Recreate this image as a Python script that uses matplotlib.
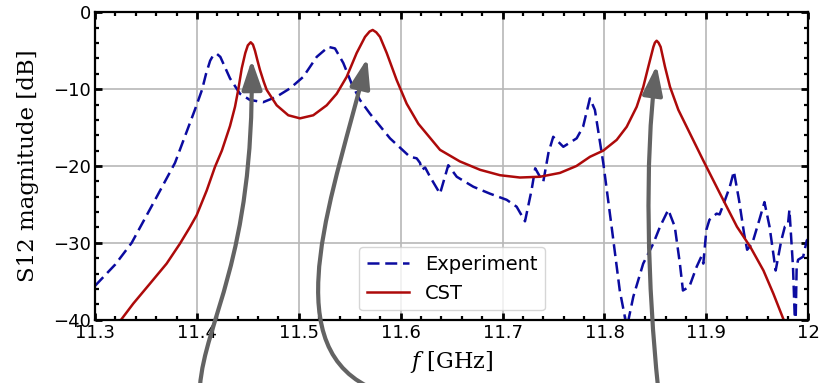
import matplotlib
matplotlib.use("Agg")
import matplotlib.pyplot as plt
from matplotlib.patches import FancyArrowPatch
from matplotlib.path import Path

# Experiment (measured S12, dB)
exp_f = [11.300, 11.320, 11.336, 11.359, 11.3785, 11.398, 11.405, 11.409, 11.413,
         11.416, 11.4195, 11.423, 11.4325, 11.4423, 11.452, 11.465, 11.478, 11.4914,
         11.5044, 11.5176, 11.529, 11.5355, 11.5437, 11.5519, 11.560, 11.5699, 11.5895,
         11.609, 11.6157, 11.619, 11.6206, 11.624, 11.6288, 11.6386, 11.6467, 11.655,
         11.6713, 11.6876, 11.704, 11.7138, 11.722, 11.7285, 11.732, 11.7367, 11.740,
         11.745, 11.7497, 11.7596, 11.7727, 11.779, 11.7857, 11.7906, 11.7988, 11.807,
         11.815, 11.822, 11.8283, 11.838, 11.8479, 11.8545, 11.8626, 11.869, 11.874,
         11.877, 11.8833, 11.8905, 11.895, 11.897, 11.900, 11.903, 11.910, 11.913,
         11.917, 11.923, 11.927, 11.932, 11.937, 11.940, 11.945, 11.952, 11.957,
         11.962, 11.968, 11.9735, 11.977, 11.980, 11.9815, 11.985, 11.9866, 11.9875,
         11.9886, 11.990, 11.995, 11.9985, 12.000]
exp_db = [-35.6, -32.8, -30.0, -24.4, -19.6, -12.7, -10.1, -8.0, -6.3,
          -5.6, -5.4, -5.8, -8.6, -10.6, -11.4, -11.7, -11.0, -9.9,
          -8.4, -5.8, -4.5, -4.7, -6.6, -9.3, -11.4, -13.2, -16.4,
          -18.8, -19.0, -19.6, -20.5, -20.2, -21.4, -23.6, -19.9, -21.4,
          -22.7, -23.6, -24.4, -25.3, -27.2, -23.1, -20.3, -21.4, -22.0,
          -18.3, -16.2, -17.5, -16.4, -14.9, -11.2, -12.7, -19.6, -27.9,
          -36.2, -41.0, -37.0, -32.7, -30.1, -27.9, -25.7, -27.9, -32.7,
          -36.2, -35.7, -33.1, -31.8, -32.7, -28.3, -27.0, -26.2, -26.3,
          -24.9, -22.7, -20.7, -24.4, -28.8, -30.9, -30.1, -27.0, -24.7,
          -27.9, -33.6, -29.7, -27.9, -27.7, -25.7, -33.1, -39.2, -41.0,
          -33.1, -32.2, -31.8, -29.7, -29.5]

# CST simulation (S12, dB)
cst_f = [11.312, 11.3245, 11.3376, 11.354, 11.3703, 11.3834, 11.393, 11.3998, 11.4096,
         11.4178, 11.4245, 11.4325, 11.4374, 11.4407, 11.444, 11.4475, 11.450, 11.4528,
         11.455, 11.457, 11.4595, 11.4619, 11.4655, 11.4685, 11.4783, 11.4897, 11.5012,
         11.5142, 11.5274, 11.5372, 11.547, 11.5568, 11.565, 11.5695, 11.5725, 11.576,
         11.5797, 11.5863, 11.596, 11.6059, 11.6173, 11.6386, 11.658, 11.678, 11.6975,
         11.717, 11.7367, 11.7563, 11.7725, 11.7858, 11.7988, 11.812, 11.8218, 11.8316,
         11.8381, 11.843, 11.848, 11.8495, 11.8512, 11.853, 11.8551, 11.8594, 11.8643,
         11.8725, 11.884, 11.897, 11.9134, 11.930, 11.943, 11.956, 11.9657, 11.9755,
         11.985]
cst_db = [-42.0, -40.2, -37.9, -35.3, -32.7, -30.1, -28.0, -26.4, -23.2,
          -20.1, -18.0, -14.8, -12.3, -10.0, -7.3, -5.3, -4.3, -3.9,
          -4.2, -5.0, -6.3, -7.5, -9.0, -10.1, -12.1, -13.4, -13.8,
          -13.4, -12.1, -10.6, -8.4, -5.3, -3.2, -2.5, -2.3, -2.6,
          -3.2, -5.3, -8.8, -11.9, -14.5, -17.9, -19.4, -20.5, -21.2,
          -21.5, -21.4, -20.9, -20.0, -18.8, -18.0, -16.6, -14.9, -12.3,
          -9.7, -7.1, -4.5, -3.95, -3.7, -3.95, -4.5, -7.1, -9.7,
          -12.7, -15.8, -19.3, -23.6, -27.9, -30.5, -33.6, -36.6, -39.9,
          -43.0]

xticks = [11.3, 11.4, 11.5, 11.6, 11.7, 11.8, 11.9, 12.0]
xtick_labels = ["11.3", "11.4", "11.5", "11.6", "11.7", "11.8", "11.9", "12"]
yticks = [0, -10, -20, -30, -40]
ytick_labels = ["0", "\u221210", "\u221220", "\u221230", "\u221240"]

# annotation arrows (bezier control points, data coords) pointing at the CST peaks
arrows = [
    [(11.4030, -48.7), (11.4079, -40.1), (11.4560, -32.3), (11.4538, -6.2)],
    [(11.5679, -48.7), (11.4766, -42.7), (11.5355, -23.2), (11.5672, -6.0)],
    [(11.8525, -48.7), (11.8427, -36.2), (11.8387, -19.3), (11.8512, -6.9)],
]

plt.rcParams['mathtext.fontset'] = 'dejavuserif'

fig = plt.figure(figsize=(8.21, 3.83), dpi=100)
ax = fig.add_axes([0.1157, 0.1653, 0.8688, 0.8026])

ax.plot(exp_f, exp_db, color='#0b0ba0', lw=1.8, linestyle=(0, (4.8, 2.3)), label='Experiment')
ax.plot(cst_f, cst_db, color='#ad0a0a', lw=1.8, label='CST')

ax.set_xlim(11.3, 12.0)
ax.set_ylim(-40, 0)
ax.set_xticks(xticks)
ax.set_xticklabels(xtick_labels)
ax.set_yticks(yticks)
ax.set_yticklabels(ytick_labels)
ax.set_xticks([11.3 + 0.02 * i for i in range(36)], minor=True)
ax.set_yticks([-40 + 2 * i for i in range(21)], minor=True)
ax.grid(True, which='major', color='#b8b8b8', lw=1.2)
ax.set_axisbelow(True)

ax.tick_params(which='both', direction='in', top=True, right=True, labelsize=13, colors='black')
ax.tick_params(which='major', length=5, width=2.0, pad=3)
ax.tick_params(which='minor', length=3, width=1.6)
for s in ax.spines.values():
    s.set_linewidth(1.6)

ax.set_ylabel('S12 magnitude [dB]', fontsize=16.5, family='DejaVu Serif', labelpad=10)
ax.set_xlabel('$f$ [GHz]', fontsize=16, family='DejaVu Serif', labelpad=5)

leg = ax.legend(loc='lower center', bbox_to_anchor=(0.5005, 0.03), borderaxespad=0,
                fontsize=14, handlelength=2.2)

for pts in arrows:
    path = Path(pts, [Path.MOVETO, Path.CURVE4, Path.CURVE4, Path.CURVE4])
    arr = FancyArrowPatch(path=path, arrowstyle='-|>,head_length=1.05,head_width=0.36',
                          mutation_scale=17, lw=3, color='#636363',
                          transform=ax.transData, clip_on=False, zorder=5)
    ax.add_artist(arr)

fig.savefig('out.png', dpi=100)
